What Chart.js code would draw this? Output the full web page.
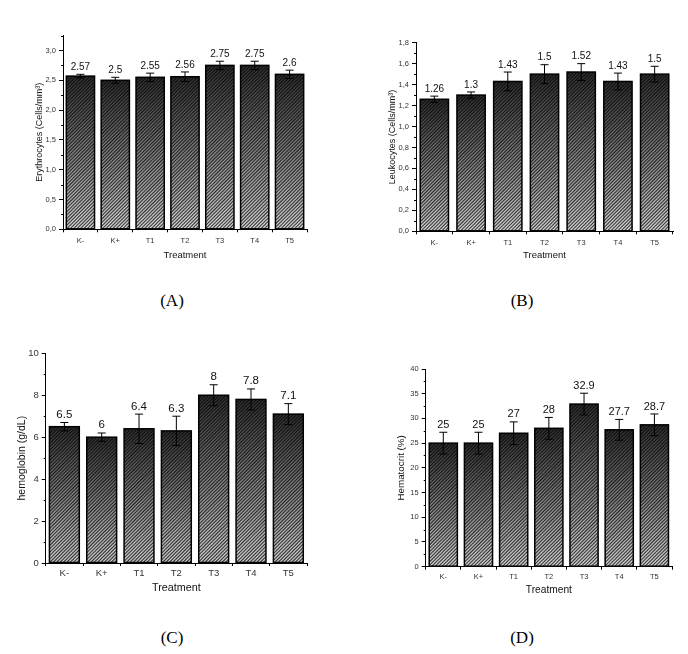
<!DOCTYPE html>
<html>
<head>
<meta charset="utf-8">
<script src="https://cdn.jsdelivr.net/npm/chart.js@4.4.1/dist/chart.umd.min.js"></script>
<style>
  body { margin: 0; background: #fff; width: 688px; height: 654px; position: relative; overflow: hidden; }
  canvas { position: absolute; }
  .tag { position: absolute; font-family: "Liberation Serif", serif; font-size: 17px; color: #000; transform: translate(-50%, -50%); }
</style>
</head>
<body>
<canvas id="chartA" width="344" height="280" style="left:0;top:0"></canvas>
<canvas id="chartB" width="344" height="280" style="left:344px;top:0"></canvas>
<canvas id="chartC" width="344" height="290" style="left:0;top:330px"></canvas>
<canvas id="chartD" width="344" height="290" style="left:344px;top:330px"></canvas>
<div class="tag" style="left:172px;top:301px">(A)</div>
<div class="tag" style="left:522px;top:301px">(B)</div>
<div class="tag" style="left:172px;top:638px">(C)</div>
<div class="tag" style="left:522px;top:638px">(D)</div>
<script>
const treatments = ['K-', 'K+', 'T1', 'T2', 'T3', 'T4', 'T5'];

const erythrocytes = [2.57, 2.5, 2.55, 2.56, 2.75, 2.75, 2.6];
const erythrocytesErr = [0.03, 0.05, 0.07, 0.08, 0.07, 0.07, 0.07];

const leukocytes = [1.26, 1.3, 1.43, 1.5, 1.52, 1.43, 1.5];
const leukocytesErr = [0.03, 0.03, 0.09, 0.09, 0.08, 0.08, 0.075];

const hemoglobin = [6.5, 6, 6.4, 6.3, 8, 7.8, 7.1];
const hemoglobinErr = [0.2, 0.2, 0.7, 0.7, 0.5, 0.5, 0.5];

const hematocrit = [25, 25, 27, 28, 32.9, 27.7, 28.7];
const hematocritErr = [2.2, 2.2, 2.3, 2.2, 2.2, 2.1, 2.2];

const FONT = "'Liberation Sans', Arial, sans-serif";

// hatch + error bars + value labels, drawn on top of the library's bars
const barExtras = {
  id: 'barExtras',
  afterDatasetsDraw(chart, args, opts) {
    const ctx = chart.ctx;
    const yScale = chart.scales.y;
    const meta = chart.getDatasetMeta(0);
    const values = chart.data.datasets[0].data;
    meta.data.forEach((bar, i) => {
      const p = bar.getProps(['x', 'y', 'base', 'width'], true);
      const left = p.x - p.width / 2, top = p.y, h = p.base - p.y;

      ctx.save();
      ctx.beginPath();
      ctx.rect(left, top, p.width, h);
      ctx.clip();
      ctx.strokeStyle = 'rgba(0,0,0,0.72)';
      ctx.lineWidth = 1.1;
      ctx.beginPath();
      for (let s = left - h; s < left + p.width + 4; s += 3.4) {
        ctx.moveTo(s, p.base);
        ctx.lineTo(s + h, top);
      }
      ctx.stroke();
      ctx.restore();

      ctx.strokeStyle = '#000';
      ctx.lineWidth = 1.5;
      ctx.strokeRect(left, top, p.width, h);

      const v = values[i], e = opts.errors[i];
      const yTop = yScale.getPixelForValue(v + e);
      const yBot = yScale.getPixelForValue(v - e);
      ctx.lineWidth = 1;
      ctx.beginPath();
      ctx.moveTo(p.x, yTop); ctx.lineTo(p.x, yBot);
      ctx.moveTo(p.x - 4, yTop); ctx.lineTo(p.x + 4, yTop);
      ctx.moveTo(p.x - 4, yBot); ctx.lineTo(p.x + 4, yBot);
      ctx.stroke();

      ctx.fillStyle = '#111';
      ctx.font = opts.labelSize + 'px ' + FONT;
      ctx.textAlign = 'center';
      ctx.textBaseline = 'bottom';
      ctx.fillText(String(v), p.x, yTop - 2);
    });

    // minor ticks on the y axis
    const x0 = chart.chartArea.left;
    ctx.strokeStyle = '#000';
    ctx.lineWidth = 1;
    ctx.beginPath();
    for (let t = opts.step / 2; t < yScale.max; t += opts.step) {
      const y = Math.round(yScale.getPixelForValue(t)) + 0.5;
      ctx.moveTo(x0 - 2, y); ctx.lineTo(x0, y);
    }
    ctx.stroke();
  }
};

function makeChart(id, values, errors, cfg) {
  const ctx = document.getElementById(id).getContext('2d');
  return new Chart(ctx, {
    type: 'bar',
    data: {
      labels: treatments,
      datasets: [{
        data: values,
        backgroundColor: (c) => {
          const chart = c.chart;
          if (!chart.chartArea || c.type !== 'data') return '#666';
          const ys = chart.scales.y;
          const g = chart.ctx.createLinearGradient(0, ys.getPixelForValue(c.raw), 0, ys.getPixelForValue(0));
          g.addColorStop(0, '#2e2e2e');
          g.addColorStop(1, '#d2d2d2');
          return g;
        },
        borderColor: '#000',
        borderWidth: 0,
        barPercentage: cfg.barPct,
        categoryPercentage: 1
      }]
    },
    options: {
      responsive: false,
      animation: false,
      layout: { padding: { top: cfg.top, right: cfg.right, left: 0, bottom: 0 } },
      plugins: {
        legend: { display: false },
        tooltip: { enabled: false },
        barExtras: { errors: errors, step: cfg.step, labelSize: cfg.labelSize }
      },
      scales: {
        x: {
          grid: { display: true, drawOnChartArea: false, offset: true, tickLength: 3, color: '#000' },
          border: { display: true, color: '#000', width: 1 },
          ticks: { color: '#333', padding: cfg.xPad, font: { family: FONT, size: cfg.tickSize } },
          title: { display: true, text: 'Treatment', color: '#111', padding: { top: 0, bottom: cfg.xTitlePad }, font: { family: FONT, size: cfg.titleSize } },
          afterFit: (s) => { s.height = cfg.xHeight; }
        },
        y: {
          min: 0,
          max: cfg.max,
          grid: { display: true, drawOnChartArea: false, tickLength: 4, color: '#000' },
          border: { display: true, color: '#000', width: 1 },
          ticks: {
            stepSize: cfg.step,
            color: '#333',
            padding: 3,
            font: { family: FONT, size: cfg.tickSize },
            callback: cfg.fmt
          },
          afterBuildTicks: (s) => {
            s.ticks = s.ticks.filter(t => Math.abs(t.value / cfg.step - Math.round(t.value / cfg.step)) < 1e-6);
          },
          title: { display: true, text: cfg.yTitle, color: '#111', padding: { top: cfg.yTitlePad, bottom: 0 }, font: { family: FONT, size: cfg.yTitleSize } },
          afterFit: (s) => { s.width = cfg.yWidth; }
        }
      }
    },
    plugins: [barExtras]
  });
}

const comma = v => v.toFixed(1).replace('.', ',');
const plain = v => String(v);

makeChart('chartA', erythrocytes, erythrocytesErr, {
  max: 3.26, step: 0.5, fmt: comma, yTitle: 'Erythrocytes (Cells/mm³)',
  top: 35, right: 37, yWidth: 63, xHeight: 50.7, barPct: 0.81,
  tickSize: 7.5, titleSize: 9.5, yTitleSize: 9, labelSize: 10,
  xPad: 4, xTitlePad: 19, yTitlePad: 34.6
});

makeChart('chartB', leukocytes, leukocytesErr, {
  max: 1.8, step: 0.2, fmt: comma, yTitle: 'Leukocytes (Cells/mm³)',
  top: 42.7, right: 15, yWidth: 72, xHeight: 48.7, barPct: 0.77,
  tickSize: 7.5, titleSize: 9.5, yTitleSize: 9, labelSize: 10,
  xPad: 4, xTitlePad: 19, yTitlePad: 43.6
});

makeChart('chartC', hemoglobin, hemoglobinErr, {
  max: 10, step: 2, fmt: plain, yTitle: 'hemoglobin (g/dL)',
  top: 23.3, right: 37, yWidth: 45.7, xHeight: 57, barPct: 0.8,
  tickSize: 9.5, titleSize: 10.8, yTitleSize: 10.5, labelSize: 11.5,
  xPad: 2, xTitlePad: 25.5, yTitlePad: 15.4
});

makeChart('chartD', hematocrit, hematocritErr, {
  max: 40, step: 5, fmt: plain, yTitle: 'Hematocrit (%)',
  top: 39, right: 16, yWidth: 81.7, xHeight: 53.3, barPct: 0.8,
  tickSize: 7.5, titleSize: 10.2, yTitleSize: 9.8, labelSize: 11,
  xPad: 3, xTitlePad: 24, yTitlePad: 51.8
});
</script>
</body>
</html>
